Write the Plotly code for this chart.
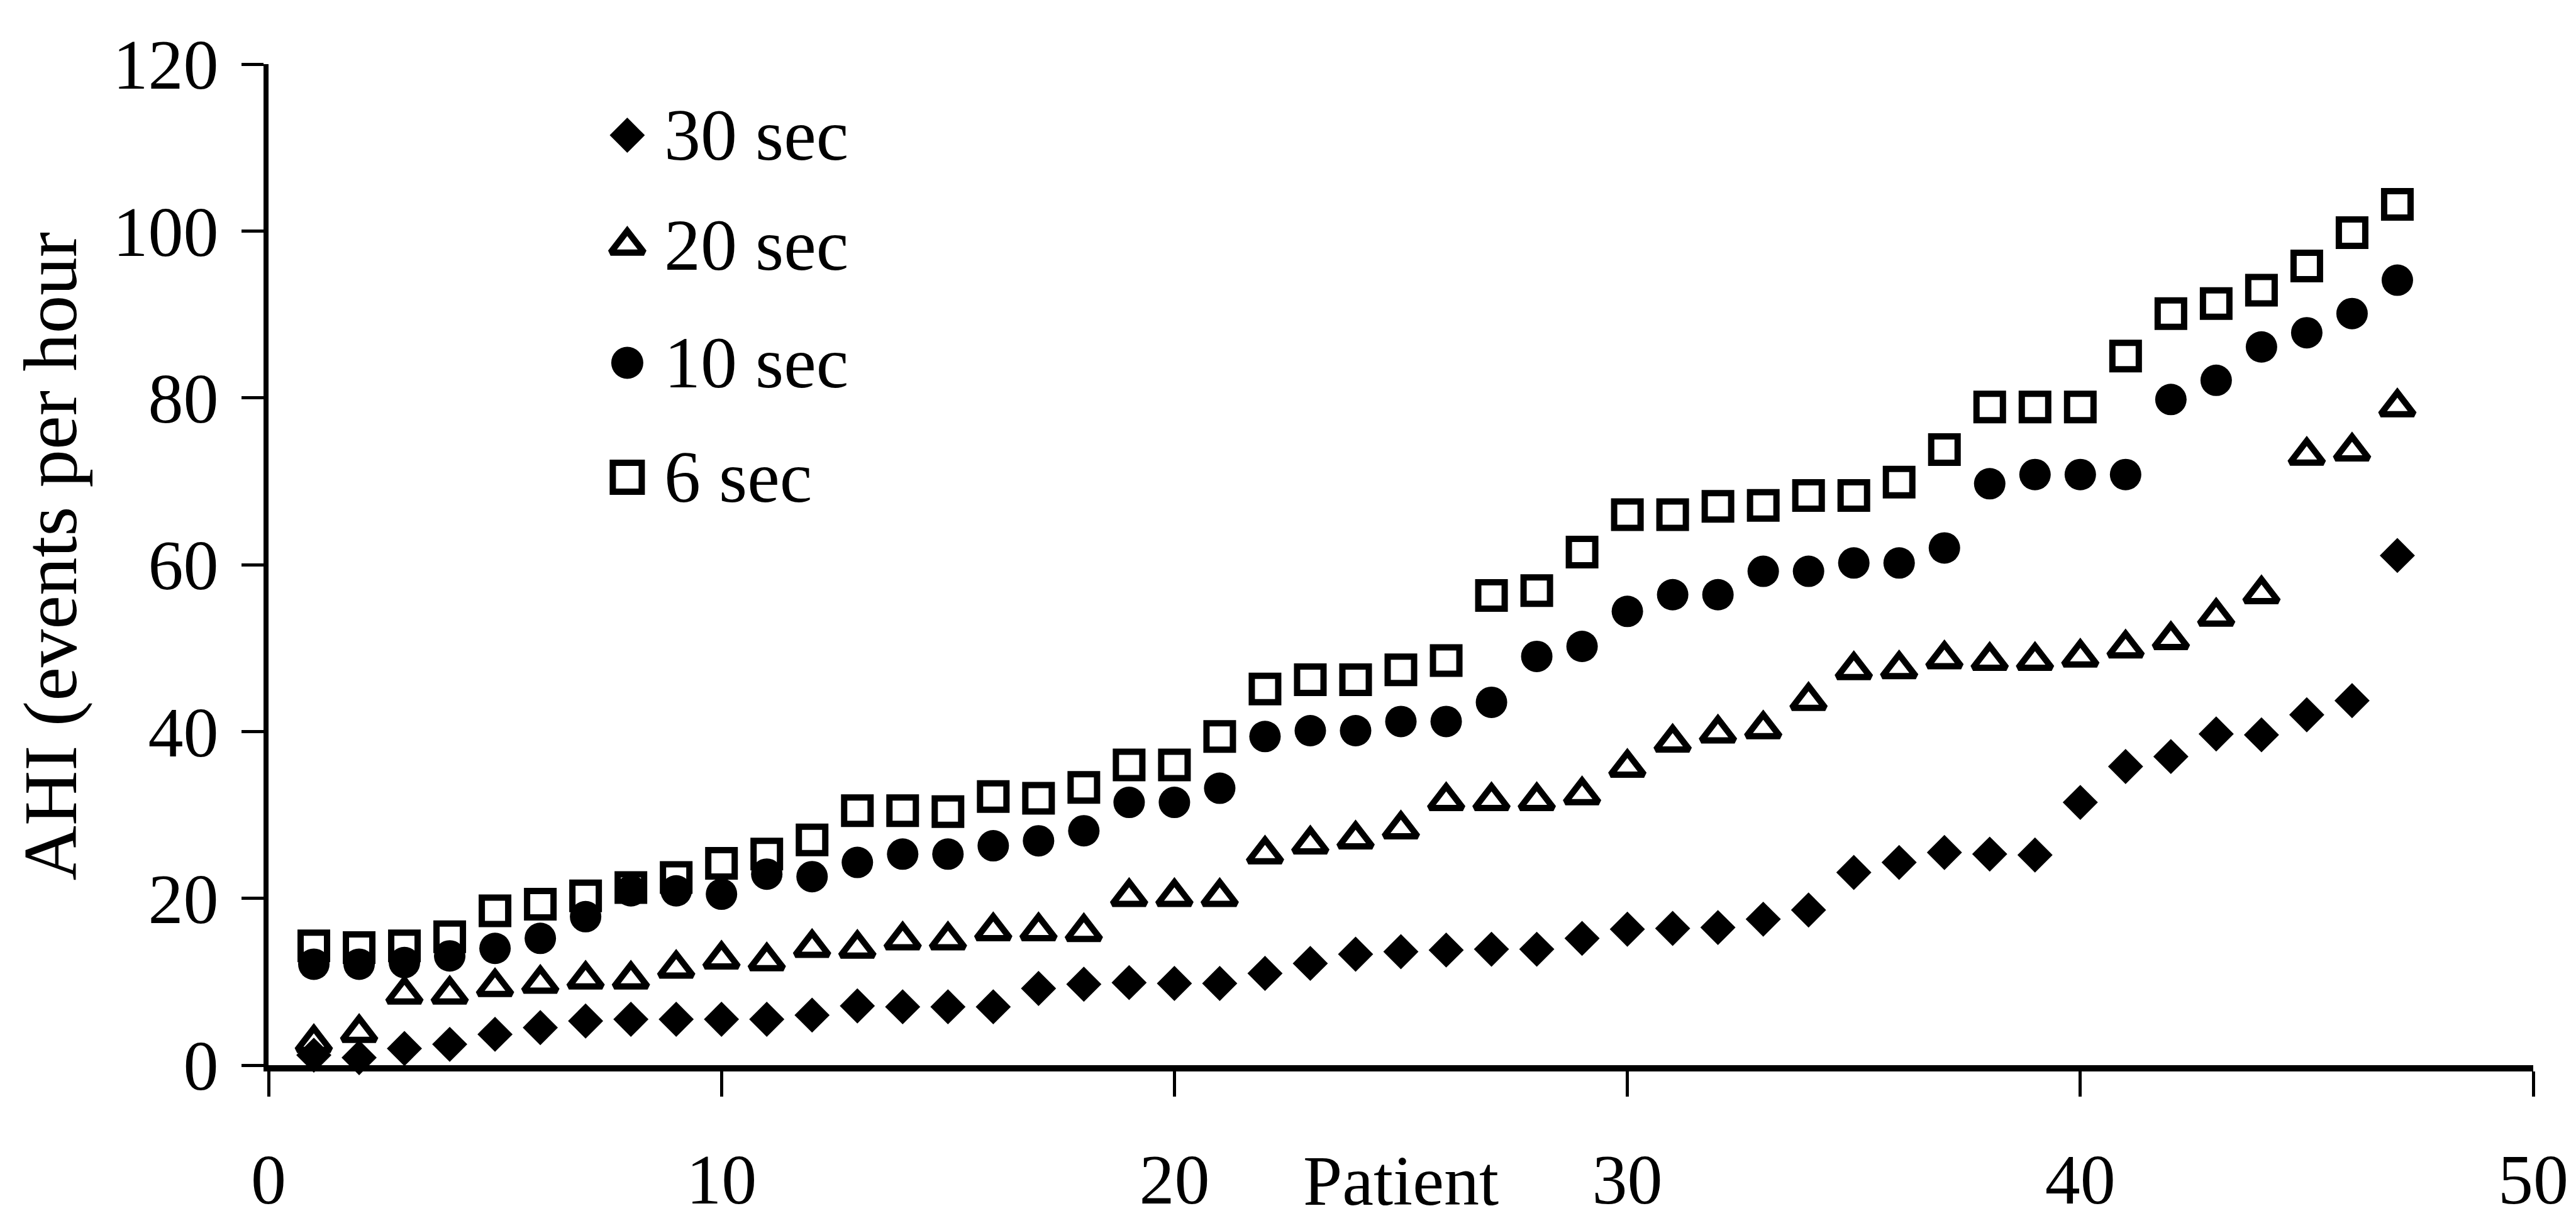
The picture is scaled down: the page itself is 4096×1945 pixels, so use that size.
import plotly.graph_objects as go

# Patients sorted by AHI, scored with four minimum-event durations
patients = list(range(1, 48))

ahi_30s = [1.2, 0.9, 2.0, 2.5, 3.7, 4.5, 5.3, 5.5, 5.5, 5.5, 5.5, 6.0, 7.1, 7.0, 7.0, 7.0,
           9.2, 9.7, 9.9, 9.8, 9.8, 11.0, 12.2, 13.3, 13.6, 13.8, 13.9, 13.9, 15.2, 16.3,
           16.4, 16.5, 17.5, 18.6, 23.1, 24.3, 25.5, 25.3, 25.2, 31.5, 35.8, 37.0, 39.7,
           39.6, 42.0, 43.7, 61.1]
ahi_20s = [2.7, 3.9, 8.5, 8.5, 9.4, 9.8, 10.3, 10.3, 11.6, 12.7, 12.5, 14.1, 14.0, 15.0,
           15.0, 16.1, 16.1, 16.0, 20.2, 20.2, 20.2, 25.3, 26.5, 27.1, 28.3, 31.7, 31.7,
           31.7, 32.4, 35.7, 38.7, 39.8, 40.3, 43.7, 47.4, 47.5, 48.7, 48.5, 48.5, 48.9,
           50.0, 51.0, 53.8, 56.5, 73.1, 73.6, 78.9]
ahi_10s = [12.1, 12.1, 12.3, 13.1, 14.0, 15.2, 17.8, 20.9, 20.9, 20.5, 22.9, 22.6, 24.3,
           25.3, 25.3, 26.3, 26.9, 28.1, 31.5, 31.5, 33.2, 39.4, 40.1, 40.1, 41.2, 41.2,
           43.5, 49.0, 50.2, 54.4, 56.4, 56.4, 59.2, 59.2, 60.2, 60.2, 62.0, 69.7, 70.8,
           70.8, 70.8, 79.8, 82.1, 86.1, 87.8, 90.1, 94.1]
ahi_6s = [14.3, 14.1, 14.3, 15.4, 18.5, 19.3, 20.3, 21.3, 22.5, 24.2, 25.3, 27.0, 30.5,
          30.5, 30.4, 32.2, 32.0, 33.3, 36.0, 36.0, 39.4, 45.1, 46.2, 46.2, 47.4, 48.5,
          56.3, 56.9, 61.5, 66.0, 66.0, 67.0, 67.1, 68.3, 68.3, 69.9, 73.8, 78.9, 78.9,
          78.9, 85.0, 90.1, 91.3, 92.9, 95.8, 99.8, 103.2]

series_names = ["30 sec", "20 sec", "10 sec", "6 sec"]
series_values = [ahi_30s, ahi_20s, ahi_10s, ahi_6s]

x_ticks = [0, 10, 20, 30, 40, 50]
y_ticks = [0, 20, 40, 60, 80, 100, 120]
x_title = "Patient"
y_title = "AHI (events per hour"

FONT = "Liberation Serif"
W, H = 4096, 1945
L, R, T, B = 427, 68, 102, 251

# marker styles for the plotted points
point_styles = [
    dict(symbol="diamond", size=43, color="black", line=dict(width=0)),
    dict(symbol="triangle-up-open", size=46, color="black", line=dict(width=10, color="black")),
    dict(symbol="circle", size=50, color="black", line=dict(width=0)),
    dict(symbol="square-open", size=42, color="black", line=dict(width=10, color="black")),
]
# keys used in the in-plot legend
key_styles = [
    dict(symbol="diamond", size=43, color="black", line=dict(width=0)),
    dict(symbol="triangle-up-open", size=46, color="black", line=dict(width=10, color="black")),
    dict(symbol="circle", size=51, color="black", line=dict(width=0)),
    dict(symbol="square-open", size=46, color="black", line=dict(width=10, color="black")),
]

fig = go.Figure()
for name, vals, st in zip(series_names, series_values, point_styles):
    fig.add_trace(go.Scatter(x=patients, y=vals, mode="markers", name=name,
                             marker=st, showlegend=False, cliponaxis=False))

# legend block drawn on a hidden overlay axis spanning the plot area
key_x = 0.1584
key_text_x = 0.1741
key_y = [0.929, 0.819, 0.7016, 0.5873]
for name, st, ky in zip(series_names, key_styles, key_y):
    fig.add_trace(go.Scatter(x=[key_x], y=[ky], mode="markers", marker=st,
                             xaxis="x2", yaxis="y2", showlegend=False,
                             hoverinfo="skip", cliponaxis=False))
    fig.add_annotation(x=key_text_x, y=ky, xref="paper", yref="paper", text=name,
                       showarrow=False, xanchor="left", yanchor="middle",
                       font=dict(family=FONT, size=116, color="black"))

fig.add_annotation(x=25, y=-0.1156, xref="x", yref="paper", text=x_title,
                   showarrow=False, xanchor="center", yanchor="middle",
                   font=dict(family=FONT, size=112, color="black"))
fig.add_annotation(x=-0.0965, y=0.5082, xref="paper", yref="paper", text=y_title,
                   textangle=-90, showarrow=False, xanchor="center", yanchor="middle",
                   font=dict(family=FONT, size=121, color="black"))

fig.update_layout(
    template="none",
    width=W, height=H,
    margin=dict(l=L, r=R, t=T, b=B, pad=0, autoexpand=False),
    paper_bgcolor="white", plot_bgcolor="white",
    font=dict(family=FONT, color="black"),
    showlegend=False,
    xaxis=dict(range=[0, 50], tickvals=x_ticks, ticktext=[str(v) for v in x_ticks],
               automargin=False, showgrid=False, zeroline=False, showline=True,
               linecolor="black", linewidth=10, ticks="outside", ticklen=40,
               tickwidth=5, tickcolor="black", ticklabelstandoff=36,
               tickfont=dict(family=FONT, size=112, color="black")),
    yaxis=dict(range=[0, 120], tickvals=y_ticks, ticktext=[str(v) for v in y_ticks],
               automargin=False, showgrid=False, zeroline=False, showline=True,
               linecolor="black", linewidth=8, ticks="outside", ticklen=35,
               tickwidth=5, tickcolor="black", ticklabelstandoff=14,
               tickfont=dict(family=FONT, size=112, color="black")),
    xaxis2=dict(range=[0, 1], overlaying="x", visible=False, fixedrange=True),
    yaxis2=dict(range=[0, 1], overlaying="y", visible=False, fixedrange=True),
)

fig.write_html("out.html")
